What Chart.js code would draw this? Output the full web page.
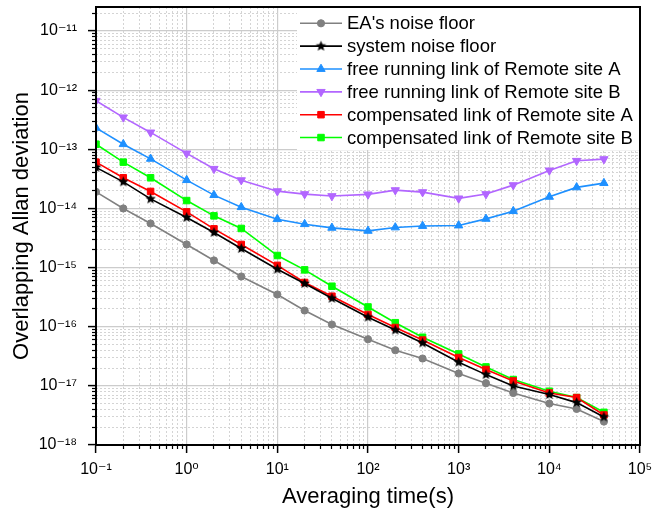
<!DOCTYPE html>
<html><head><meta charset="utf-8">
<script src="https://cdn.jsdelivr.net/npm/chart.js@4.4.0/dist/chart.umd.min.js"></script>
<style>html,body{margin:0;padding:0;background:#fff;}#wrap{width:652px;height:521px;position:relative;}</style>
</head><body><div id="wrap"><canvas id="c" width="652" height="521"></canvas></div>
<script>
// ---------- data ----------
const tau = [0.1,0.2,0.4,1,2,4,10,20,40,100,200,400,1000,2000,4000,10000,20000,40000];
const eaNoiseFloor = [1.91e-14,1.0e-14,5.57e-15,2.46e-15,1.32e-15,7.07e-16,3.51e-16,1.88e-16,1.09e-16,6.14e-17,4.0e-17,2.9e-17,1.62e-17,1.11e-17,7.59e-18,5.02e-18,4.07e-18,2.49e-18];
const systemNoiseFloor = [4.94e-14,2.82e-14,1.45e-14,7.05e-15,3.93e-15,2.10e-15,9.4e-16,5.38e-16,3.03e-16,1.45e-16,8.8e-17,5.32e-17,2.51e-17,1.55e-17,9.96e-18,7.13e-18,5.21e-18,2.98e-18];
const freeRunningA = [2.31e-13,1.22e-13,6.9e-14,3.01e-14,1.68e-14,1.05e-14,6.59e-15,5.42e-15,4.70e-15,4.18e-15,4.77e-15,5.05e-15,5.15e-15,6.67e-15,9.0e-15,1.57e-14,2.27e-14,2.68e-14];
const freeRunningB = [6.62e-13,3.47e-13,1.93e-13,8.53e-14,4.68e-14,3.01e-14,1.96e-14,1.75e-14,1.62e-14,1.73e-14,2.04e-14,1.89e-14,1.48e-14,1.75e-14,2.48e-14,4.40e-14,6.39e-14,6.83e-14];
const compensatedA = [6.07e-14,3.30e-14,1.94e-14,8.75e-15,4.52e-15,2.46e-15,1.09e-15,5.6e-16,3.28e-16,1.61e-16,9.7e-17,5.95e-17,3.01e-17,1.89e-17,1.21e-17,7.59e-18,6.34e-18,3.22e-18];
const compensatedB = [1.22e-13,6.07e-14,3.30e-14,1.36e-14,7.5e-15,4.59e-15,1.60e-15,9.15e-16,4.84e-16,2.16e-16,1.17e-16,6.64e-17,3.47e-17,2.09e-17,1.28e-17,8.11e-18,6.34e-18,3.57e-18];
const seriesNames = ["EA's noise floor","system noise floor","free running link of Remote site A","free running link of Remote site B","compensated link of Remote site A","compensated link of Remote site B"];

const xMajorTicks = [0.1,1,10,100,1000,10000,100000];
const xTickLabels = ['10\u207B\u00B9','10\u2070','10\u00B9','10\u00B2','10\u00B3','10\u2074','10\u2075'];
const yMajorTicks = [1e-18,1e-17,1e-16,1e-15,1e-14,1e-13,1e-12,1e-11];
const yTickLabels = ['10\u207B\u00B9\u2078','10\u207B\u00B9\u2077','10\u207B\u00B9\u2076','10\u207B\u00B9\u2075','10\u207B\u00B9\u2074','10\u207B\u00B9\u00B3','10\u207B\u00B9\u00B2','10\u207B\u00B9\u00B9'];
const minorMultipliers = [2,3,4,5,6,7,8,9];
const X_MIN = 0.1, X_MAX = 1e5, Y_MIN = 1e-18, Y_MAX = 2.55e-11;

// ---------- helpers ----------
function minorTicks(majors, max){
  const out=[];
  majors.forEach(m=>minorMultipliers.forEach(k=>{const v=m*k; if(v<max) out.push({value:v});}));
  return out;
}
function makeStar(r,color){
  const s=Math.ceil(r*2+2); const c=document.createElement('canvas'); c.width=s;c.height=s;
  const g=c.getContext('2d'); g.fillStyle=color; g.beginPath();
  for(let i=0;i<10;i++){const a=-Math.PI/2+i*Math.PI/5; const rr=i%2?r*0.45:r; g.lineTo(s/2+rr*Math.cos(a),s/2+rr*Math.sin(a));}
  g.closePath(); g.fill(); return c;
}
const FONT='"Liberation Sans", Arial, "DejaVu Sans", sans-serif';
const pts = arr => tau.map((t,i)=>({x:t,y:arr[i]}));
const noPad = s=>{s.paddingTop=0;s.paddingBottom=0;s.paddingLeft=0;s.paddingRight=0;};

function ds(label,arr,color,style,radius,extra){
  return Object.assign({label,data:pts(arr),borderColor:color,backgroundColor:color,
    pointBackgroundColor:color,pointBorderColor:color,pointBorderWidth:1,
    borderWidth:1.6,pointStyle:style,pointRadius:radius,pointRotation:0,
    tension:0,fill:false,xAxisID:'x',yAxisID:'y'},extra||{});
}
const starImg = makeStar(5.5,'#000');
const datasets = [
  ds(seriesNames[0],eaNoiseFloor,'#808080','circle',3.6,{order:1}),
  ds(seriesNames[1],systemNoiseFloor,'#000000',starImg,4,{order:0}),
  ds(seriesNames[2],freeRunningA,'#1E90FF','triangle',4.8,{order:4}),
  ds(seriesNames[3],freeRunningB,'#B266FF','triangle',4.8,{order:5,pointRotation:180}),
  ds(seriesNames[4],compensatedA,'#FF0000','rect',4.6,{order:2}),
  ds(seriesNames[5],compensatedB,'#00FF00','rect',4.6,{order:3})
];

const legendPlugin = {
  id:'insideLegend',
  afterDatasetsDraw(chart){
    const ctx=chart.ctx, a=chart.chartArea;
    ctx.save();
    ctx.fillStyle='#fff';
    ctx.fillRect(297,a.top+1,a.right-297-1,149-a.top);
    chart.data.datasets.forEach((d,i)=>{
      const y=23.3+i*22.85;
      ctx.strokeStyle=d.borderColor; ctx.lineWidth=1.6; ctx.setLineDash([]);
      ctx.beginPath(); ctx.moveTo(300,y); ctx.lineTo(342,y); ctx.stroke();
      ctx.fillStyle=d.pointBackgroundColor; ctx.strokeStyle=d.pointBorderColor; ctx.lineWidth=1;
      Chart.helpers.drawPoint(ctx,{pointStyle:d.pointStyle,radius:d.pointRadius,rotation:d.pointRotation||0,borderWidth:1},321,y);
      ctx.fillStyle='#000'; ctx.font='18.5px '+FONT; ctx.textBaseline='middle'; ctx.textAlign='left';
      ctx.fillText(d.label,347,y+1);
    });
    ctx.restore();
  },
  afterDraw(chart){
    const ctx=chart.ctx,a=chart.chartArea;
    ctx.save(); ctx.strokeStyle='#000'; ctx.lineWidth=2;
    ctx.strokeRect(a.left,a.top,a.right-a.left,a.bottom-a.top);
    ctx.restore();
  }
};

new Chart(document.getElementById('c'),{
  type:'line',
  data:{datasets},
  plugins:[legendPlugin],
  options:{
    responsive:false,animation:false,devicePixelRatio:1,events:[],
    layout:{padding:{top:7,right:12,left:0,bottom:0}},
    plugins:{legend:{display:false},tooltip:{enabled:false}},
    scales:{
      x:{type:'logarithmic',position:'bottom',min:X_MIN,max:X_MAX,weight:1,
        afterBuildTicks:s=>{s.ticks=xMajorTicks.map(v=>({value:v,major:true}));},
        ticks:{autoSkip:false,maxRotation:0,minRotation:0,padding:7,color:'#000',font:{family:FONT,size:16},callback:(v,i)=>xTickLabels[i]},
        grid:{color:'#cccccc',lineWidth:1.2,tickLength:8,tickColor:'#000',tickWidth:1.5},
        border:{display:true,color:'#000',width:2},
        title:{display:true,text:'Averaging time(s)',color:'#000',font:{family:FONT,size:22},padding:{top:0,bottom:11}},
        afterFit:s=>{s.height=76;noPad(s);}
      },
      xm:{type:'logarithmic',position:'bottom',min:X_MIN,max:X_MAX,weight:0,
        afterBuildTicks:s=>{s.ticks=minorTicks(xMajorTicks,X_MAX);},
        ticks:{display:false,autoSkip:false,padding:0},
        grid:{color:'#d4d4d4',lineWidth:1,tickLength:4,tickColor:'#000',tickWidth:1.2},
        border:{display:false,dash:[2,2]},
        afterFit:s=>{s.height=0;noPad(s);}
      },
      y:{type:'logarithmic',position:'left',min:Y_MIN,max:Y_MAX,weight:1,
        afterBuildTicks:s=>{s.ticks=yMajorTicks.map(v=>({value:v,major:true}));},
        ticks:{autoSkip:false,padding:11,color:'#000',font:{family:FONT,size:16},callback:(v,i)=>yTickLabels[i]},
        grid:{color:'#cccccc',lineWidth:1.2,tickLength:8,tickColor:'#000',tickWidth:1.5},
        border:{display:true,color:'#000',width:2},
        title:{display:true,text:'Overlapping Allan deviation',color:'#000',font:{family:FONT,size:22},padding:{top:9,bottom:0}},
        afterFit:s=>{s.width=96;noPad(s);}
      },
      ym:{type:'logarithmic',position:'left',min:Y_MIN,max:Y_MAX,weight:0,
        afterBuildTicks:s=>{s.ticks=minorTicks(yMajorTicks,Y_MAX);},
        ticks:{display:false,autoSkip:false,padding:0},
        grid:{color:'#d4d4d4',lineWidth:1,tickLength:4,tickColor:'#000',tickWidth:1.2},
        border:{display:false,dash:[2,2]},
        afterFit:s=>{s.width=0;noPad(s);}
      }
    }
  }
});
</script></body></html>
